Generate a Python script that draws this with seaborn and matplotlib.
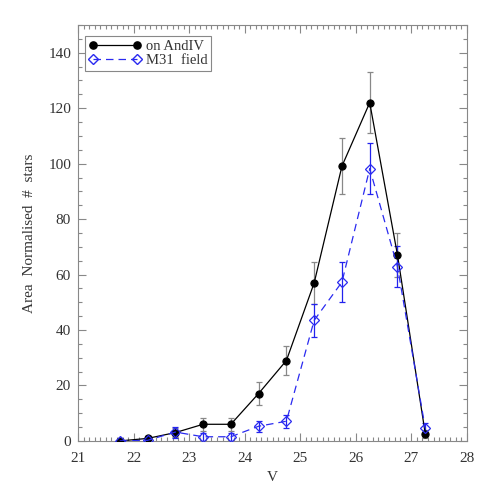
import numpy as np
import pandas as pd
import matplotlib
matplotlib.use("Agg")
import matplotlib.pyplot as plt
from matplotlib.ticker import MultipleLocator
import seaborn as sns

# magnitude bins (V)
v_bins = [21.75, 22.25, 22.75, 23.25, 23.75, 24.25, 24.75, 25.25, 25.75, 26.25, 26.75, 27.25]

# on AndIV counts and errors
andiv_n = [0.0, 0.9, 3.0, 6.0, 6.0, 17.1, 29.0, 57.0, 99.1, 122.0, 67.0, 2.6]
andiv_err = [0.5, 0.8, 1.5, 2.3, 2.3, 4.1, 5.3, 7.5, 10.0, 11.0, 8.0, 1.5]

# M31 field counts and errors
field_n = [0.0, 0.2, 3.2, 1.5, 1.5, 5.3, 7.1, 43.5, 57.3, 98.2, 62.8, 4.5]
field_err = [0.3, 0.5, 2.0, 1.5, 1.5, 2.0, 2.4, 6.0, 7.1, 9.3, 7.4, 1.8]

df = pd.DataFrame({
    "V": v_bins * 2,
    "N": andiv_n + field_n,
    "err": andiv_err + field_err,
    "set": ["on AndIV"] * len(v_bins) + ["M31 field"] * len(v_bins),
})

sns.set_style("ticks")
plt.rcParams["font.family"] = ["Liberation Serif", "DejaVu Serif"]
plt.rcParams["font.size"] = 11

fig = plt.figure(figsize=(4.91, 4.91), dpi=100)
ax = fig.add_axes([0.159, 0.102, 0.792, 0.847])

a = df[df["set"] == "on AndIV"]
f = df[df["set"] == "M31 field"]

ax.errorbar(a["V"], a["N"], yerr=a["err"], fmt="none", ecolor="#888888",
            elinewidth=0.9, capsize=2.5, capthick=0.9, zorder=2)
ax.errorbar(f["V"], f["N"], yerr=f["err"], fmt="none", ecolor="#2222ee",
            elinewidth=0.9, capsize=2.5, capthick=0.9, zorder=2)

sns.lineplot(data=df, x="V", y="N", hue="set", style="set",
             palette={"on AndIV": "black", "M31 field": "#2a2af0"},
             dashes={"on AndIV": "", "M31 field": (6, 4)},
             markers={"on AndIV": "o", "M31 field": "D"},
             markersize=5.2, linewidth=0.9, ax=ax, legend=False, zorder=3)

# open diamonds for the field
for ln in ax.lines:
    if ln.get_marker() == "D":
        ln.set_markerfacecolor("none")
        ln.set_markeredgecolor("#2a2af0")
        ln.set_markersize(4.6)
        ln.set_markeredgewidth(0.9)
    elif ln.get_marker() == "o":
        ln.set_markeredgecolor("black")

ax.set_xlim(21, 28)
ax.set_ylim(0, 150)
ax.xaxis.set_major_locator(MultipleLocator(1))
ax.xaxis.set_minor_locator(MultipleLocator(0.1))
ax.yaxis.set_major_locator(MultipleLocator(20))
ax.yaxis.set_minor_locator(MultipleLocator(5))
ax.yaxis.set_major_formatter(matplotlib.ticker.FuncFormatter(lambda v, p: "%d" % v if v <= 140 else ""))

ax.tick_params(which="both", direction="in", top=True, right=True,
               color="#888888", labelcolor="#333333", labelsize=11, width=0.8)
ax.tick_params(which="major", length=6)
ax.tick_params(which="minor", length=3)
ax.tick_params(axis="x", pad=8)
ax.tick_params(axis="y", pad=5)
for s in ax.spines.values():
    s.set_color("#888888")
    s.set_linewidth(0.8)

ax.set_xlabel("V", color="#333333", labelpad=4)
ax.set_ylabel("Area  Normalised  #  stars", color="#333333", labelpad=9)

h1, = ax.plot([], [], color="black", marker="o", markersize=5.2, linewidth=0.9)
h2, = ax.plot([], [], color="#2a2af0", marker="D", markersize=4.6, linestyle=(0, (6, 4)),
              markerfacecolor="none", linewidth=0.9)
leg = ax.legend([h1, h2], ["on AndIV", "M31  field"], loc="upper left", numpoints=2,
                bbox_to_anchor=(0.018, 0.974), borderaxespad=0,
                fancybox=False, framealpha=1, edgecolor="#888888", fontsize=10.5,
                handlelength=3.6, handletextpad=0.3, borderpad=0.25, labelspacing=0.1)
leg.get_frame().set_linewidth(0.8)
for t in leg.get_texts():
    t.set_color("#333333")

fig.savefig("out.png", dpi=100)
